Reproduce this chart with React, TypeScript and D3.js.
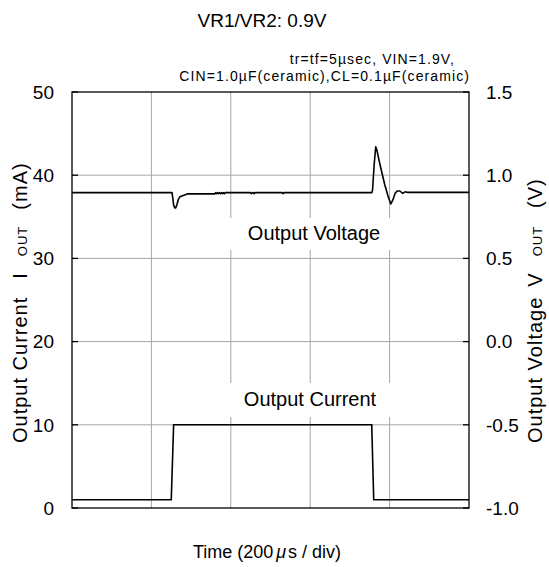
import React from 'react';
import * as d3 from 'd3';

// time axis in microseconds (200 us / div, 5 div)
const timeTicks = [0, 200, 400, 600, 800, 1000];
const currentTicks = [0, 10, 20, 30, 40, 50];
const voltageTicks = [-1.0, -0.5, 0.0, 0.5, 1.0, 1.5];

// load current step (mA)
const currentTime = [0, 250, 256, 755, 760, 1000];
const currentValue = [1, 1, 10, 10, 1, 1];

// output voltage response (V)
const voltageTime = [
  0, 252, 254, 256, 259, 261, 264, 268, 272, 280, 286, 290, 360,
  362, 364, 367, 369, 372, 374, 377, 379, 382, 384, 386, 388,
  450, 452, 455, 457, 459, 461, 530, 532, 534,
  755, 757, 761, 765, 768, 776, 788, 796, 803, 808, 814, 819, 826, 833, 839, 844, 1000,
];
const voltageValue = [
  0.895, 0.895, 0.86, 0.82, 0.803, 0.803, 0.821, 0.855, 0.871, 0.878, 0.882, 0.888, 0.888,
  0.895, 0.889, 0.895, 0.889, 0.895, 0.889, 0.895, 0.889, 0.895, 0.889, 0.895, 0.895,
  0.895, 0.889, 0.895, 0.895, 0.889, 0.895, 0.895, 0.889, 0.895,
  0.895, 0.91, 1.06, 1.171, 1.151, 1.061, 0.941, 0.875, 0.827, 0.85, 0.891, 0.905, 0.905, 0.891, 0.9, 0.897, 0.897,
];

const W = 549;
const H = 567;
const plot = { left: 72, right: 469, top: 92, bottom: 508 };
const font = '"Liberation Sans", Arial, sans-serif';

export default function App() {
  const x = d3.scaleLinear().domain([0, 1000]).range([plot.left, plot.right]);
  const yI = d3.scaleLinear().domain([0, 50]).range([plot.bottom, plot.top]);
  const yV = d3.scaleLinear().domain([-1, 1.5]).range([plot.bottom, plot.top]);

  const currentPath = d3.line<number>()
    .x((_, i) => x(currentTime[i]))
    .y(d => yI(d))(currentValue) as string;

  const voltagePath = d3.line<number>()
    .x((_, i) => x(voltageTime[i]))
    .y(d => yV(d))(voltageValue) as string;

  const grid = '#a6a6a6';

  return (
    <svg width={W} height={H} style={{ position: 'absolute', left: 0, top: 0, background: '#fff' }}
      fontFamily={font}>
      {/* grid */}
      {timeTicks.slice(1, -1).map(t => (
        <line key={'gx' + t} x1={x(t)} x2={x(t)} y1={plot.top} y2={plot.bottom} stroke={grid} strokeWidth={1} />
      ))}
      {currentTicks.slice(1, -1).map(v => (
        <line key={'gy' + v} x1={plot.left} x2={plot.right} y1={yI(v)} y2={yI(v)} stroke={grid} strokeWidth={1} />
      ))}

      {/* label backgrounds */}
      <rect x={228} y={218} width={164} height={32} fill="#fff" />
      <rect x={228} y={383} width={164} height={34} fill="#fff" />
      <text x={314} y={240} fontSize={20} textAnchor="middle">Output Voltage</text>
      <text x={310} y={406} fontSize={20} textAnchor="middle">Output Current</text>

      {/* data */}
      <path d={currentPath} fill="none" stroke="#000" strokeWidth={1.6} />
      <path d={voltagePath} fill="none" stroke="#000" strokeWidth={1.6} strokeLinejoin="round" />

      {/* frame */}
      <rect x={plot.left} y={plot.top} width={plot.right - plot.left} height={plot.bottom - plot.top}
        fill="none" stroke="#000" strokeWidth={1.3} />

      {/* left axis */}
      {currentTicks.map(v => (
        <g key={'li' + v}>
          <line x1={plot.left} x2={plot.left + 6} y1={yI(v)} y2={yI(v)} stroke="#000" strokeWidth={1.3} />
          <text x={54} y={yI(v)} dy="0.36em" fontSize={19} textAnchor="end">{v}</text>
        </g>
      ))}
      {/* right axis */}
      {voltageTicks.map(v => (
        <g key={'rv' + v}>
          <line x1={plot.right - 6} x2={plot.right} y1={yV(v)} y2={yV(v)} stroke="#000" strokeWidth={1.3} />
          <text x={486} y={yV(v)} dy="0.36em" fontSize={19} textAnchor="start">{v.toFixed(1)}</text>
        </g>
      ))}

      {/* titles */}
      <text x={262} y={27} fontSize={19} textAnchor="middle">VR1/VR2: 0.9V</text>
      <text x={455} y={64} fontSize={14} textAnchor="end" letterSpacing={1.1}>tr=tf=5µsec, VIN=1.9V,</text>
      <text x={470} y={81} fontSize={14} textAnchor="end" letterSpacing={1.1}>CIN=1.0µF(ceramic),CL=0.1µF(ceramic)</text>

      <text transform="translate(27,443) rotate(-90)" fontSize={20} letterSpacing={1}>
        <tspan>Output Current</tspan>
        <tspan dx={18}>I</tspan>
        <tspan dx={16} fontSize={13}>OUT</tspan>
        <tspan dx={16}>(mA)</tspan>
      </text>
      <text transform="translate(542,443) rotate(-90)" fontSize={20} letterSpacing={1}>
        <tspan>Output Voltage</tspan>
        <tspan dx={10}>V</tspan>
        <tspan dx={16} fontSize={13}>OUT</tspan>
        <tspan dx={18}>(V)</tspan>
      </text>

      <text x={267} y={558} fontSize={18} textAnchor="middle">
        <tspan>Time (200</tspan>
        <tspan fontStyle="italic" dx={3}>μ</tspan>
        <tspan dx={2}>s / div)</tspan>
      </text>
    </svg>
  );
}
